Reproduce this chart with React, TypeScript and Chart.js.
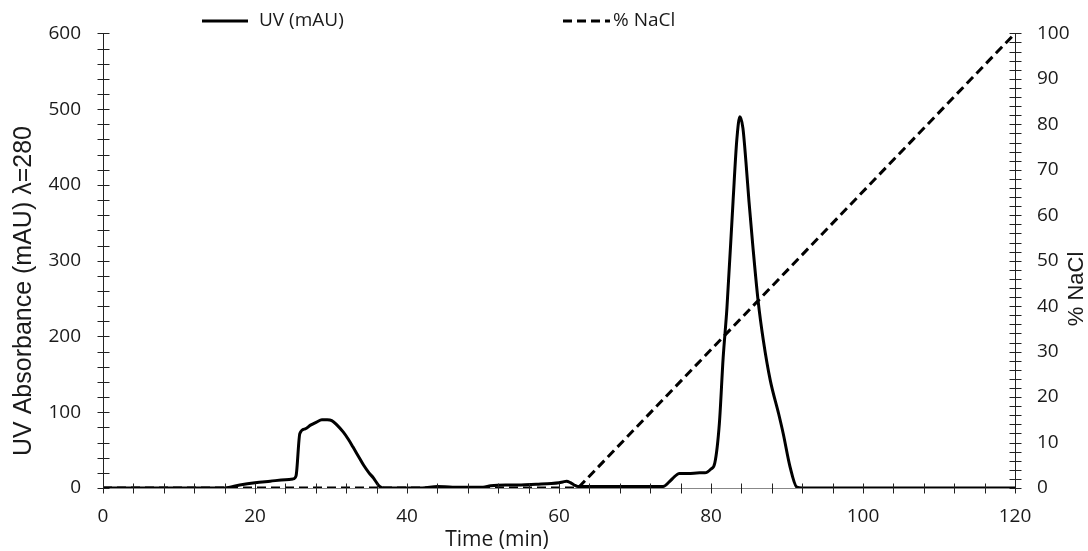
import React, { useEffect, useRef } from 'react';
import { Chart, registerables } from 'chart.js';

Chart.register(...registerables);

// ---- data ----
const uvTime = [0, 16, 18, 20, 22, 24, 25, 25.4, 25.9, 26.6, 27.3, 28.1, 28.8, 29.5, 30.1, 30.8, 31.6, 32.3, 32.9, 33.6, 34.3, 35, 35.6, 36, 36.4, 37, 40, 42, 44, 46, 48, 50, 51, 53, 55, 57, 59, 60, 60.5, 61, 61.5, 62, 62.5, 64, 68, 72, 73.7, 74.5, 75.2, 75.8, 77, 78.5, 79.2, 80, 80.5, 81.1, 81.6, 82.1, 82.9, 83.4, 83.8, 84.2, 84.6, 85, 85.5, 86.2, 86.9, 87.8, 88.9, 89.5, 90.4, 91.3, 92, 100, 110, 120];
const uvValues = [0, 0, 4, 7, 9, 11, 12, 16, 72, 78, 83, 87, 90, 90, 89, 83, 74, 64, 54, 42, 30, 20, 13, 7, 2, 0, 0, 0, 2, 1, 1, 1, 3, 4, 4, 5, 6, 7, 8, 9, 7, 4, 2, 2, 2, 2, 2, 8, 15, 19, 19, 20, 20, 25, 33, 85, 172, 238, 378, 460, 490, 475, 430, 378, 320, 247, 194, 142, 98, 72, 28, 1, 0, 0, 0, 0];
const naclTime = [0, 62.5, 120];
const naclValues = [0, 0, 100];

const uvLabel = 'UV (mAU)';
const naclLabel = '% NaCl';
const xTitle = 'Time (min)';
const yTitle = 'UV Absorbance (mAU) λ=280';
const y2Title = '% NaCl';

const xRange = [0, 120];
const xMajorStep = 20;
const xMinorStep = 4;
const yRange = [0, 600];
const yMajorStep = 100;
const yMinorStep = 20;
const y2Range = [0, 100];
const y2MajorStep = 10;
const y2MinorStep = 2;

const TICK_FONT = { family: '"Open Sans", sans-serif', size: 19 };
const TEXT_COLOR = '#1a1a1a';

const decorPlugin = {
  id: 'decor',
  afterDraw(chart: any) {
    const ctx = chart.ctx as CanvasRenderingContext2D;
    const xs = chart.scales.x;
    const ys = chart.scales.y;
    const y2s = chart.scales.y1;
    ctx.save();
    ctx.strokeStyle = '#222';
    ctx.lineWidth = 1;
    // crossing tick marks
    const axisY = Math.round(xs.top) + 0.5;
    for (let v = xRange[0]; v <= xRange[1] + 1e-9; v += xMinorStep) {
      const px = Math.round(xs.getPixelForValue(v)) + 0.5;
      ctx.beginPath();
      ctx.moveTo(px, axisY - 5);
      ctx.lineTo(px, axisY + 5);
      ctx.stroke();
    }
    const leftX = Math.round(ys.right) + 0.5;
    for (let v = yRange[0]; v <= yRange[1] + 1e-9; v += yMinorStep) {
      const py = Math.round(ys.getPixelForValue(v)) + 0.5;
      ctx.beginPath();
      ctx.moveTo(leftX - 6, py);
      ctx.lineTo(leftX + 6, py);
      ctx.stroke();
    }
    const rightX = Math.round(y2s.left) + 0.5;
    for (let v = y2Range[0]; v <= y2Range[1] + 1e-9; v += y2MinorStep) {
      const py = Math.round(y2s.getPixelForValue(v)) + 0.5;
      ctx.beginPath();
      ctx.moveTo(rightX - 6, py);
      ctx.lineTo(rightX + 6, py);
      ctx.stroke();
    }

    // axis titles
    ctx.fillStyle = TEXT_COLOR;
    ctx.textAlign = 'center';
    ctx.textBaseline = 'middle';
    ctx.font = '21px "Open Sans", sans-serif';
    ctx.fillText(xTitle, 497, 540);

    ctx.font = '25px "Liberation Sans", Arial, sans-serif';
    ctx.save();
    ctx.translate(24, 291);
    ctx.rotate(-Math.PI / 2);
    ctx.fillText(yTitle, 0, 0);
    ctx.restore();

    ctx.font = '22px "Liberation Sans", Arial, sans-serif';
    ctx.save();
    ctx.translate(1077, 289);
    ctx.rotate(-Math.PI / 2);
    ctx.fillText(y2Title, 0, 0);
    ctx.restore();

    // legend
    const items = [
      { ds: chart.data.datasets[0], x0: 202, x1: 248, tx: 259 },
      { ds: chart.data.datasets[1], x0: 563, x1: 610, tx: 613 },
    ];
    ctx.font = '19px "Open Sans", sans-serif';
    ctx.textAlign = 'left';
    for (const it of items) {
      ctx.save();
      ctx.strokeStyle = it.ds.borderColor;
      ctx.lineWidth = it.ds.borderWidth;
      ctx.setLineDash(it.ds.borderDash || []);
      ctx.beginPath();
      ctx.moveTo(it.x0, 21);
      ctx.lineTo(it.x1, 21);
      ctx.stroke();
      ctx.restore();
      ctx.fillText(it.ds.label, it.tx, 21);
    }
    ctx.restore();
  },
};

export default function App() {
  const ref = useRef<HTMLCanvasElement | null>(null);

  useEffect(() => {
    if (!ref.current) return;
    const chart = new Chart(ref.current, {
      type: 'line',
      data: {
        datasets: [
          {
            label: uvLabel,
            data: uvTime.map((t, i) => ({ x: t, y: uvValues[i] })),
            borderColor: '#000',
            borderWidth: 3,
            pointRadius: 0,
            cubicInterpolationMode: 'monotone',
            yAxisID: 'y',
            order: 0,
          },
          {
            label: naclLabel,
            data: naclTime.map((t, i) => ({ x: t, y: naclValues[i] })),
            borderColor: '#000',
            borderWidth: 3,
            borderDash: [9, 5],
            pointRadius: 0,
            tension: 0,
            yAxisID: 'y1',
            order: 1,
          },
        ],
      },
      options: {
        responsive: false,
        animation: false,
        layout: { padding: { top: 31, left: 0, right: 0, bottom: 0 } },
        plugins: { legend: { display: false }, tooltip: { enabled: false } },
        scales: {
          x: {
            type: 'linear',
            min: xRange[0],
            max: xRange[1],
            ticks: { stepSize: xMajorStep, font: TICK_FONT, color: TEXT_COLOR, padding: 17, maxRotation: 0 },
            grid: { display: false, drawTicks: false },
            border: { display: true, color: '#888', width: 1 },
            afterFit: (s: any) => { s.height = 63; },
          },
          y: {
            type: 'linear',
            position: 'left',
            min: yRange[0],
            max: yRange[1],
            ticks: { stepSize: yMajorStep, font: TICK_FONT, color: TEXT_COLOR, padding: 22 },
            grid: { display: false, drawTicks: false },
            border: { display: true, color: '#222', width: 1 },
            afterFit: (s: any) => { s.width = 103; },
          },
          y1: {
            type: 'linear',
            position: 'right',
            min: y2Range[0],
            max: y2Range[1],
            ticks: { stepSize: y2MajorStep, font: TICK_FONT, color: TEXT_COLOR, padding: 22 },
            grid: { display: false, drawTicks: false },
            border: { display: true, color: '#222', width: 1 },
            afterFit: (s: any) => { s.width = 73; },
          },
        },
      },
      plugins: [decorPlugin],
    } as any);
    return () => chart.destroy();
  }, []);

  return (
    <div style={{ position: 'absolute', left: 0, top: 0, width: 1088, height: 551, background: '#fff' }}>
      <canvas ref={ref} width={1088} height={551} style={{ display: 'block' }} />
    </div>
  );
}
